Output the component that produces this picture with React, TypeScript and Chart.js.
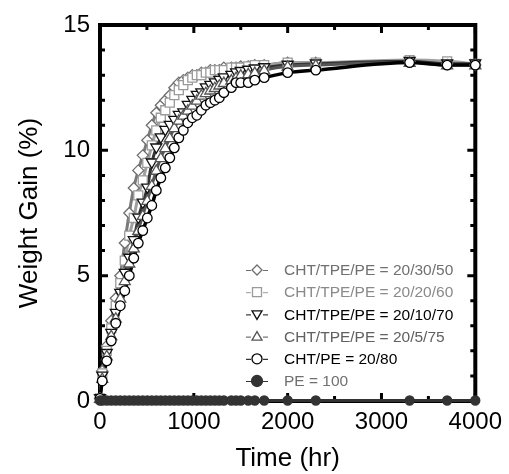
import React, { useEffect, useRef } from "react";
import { Chart, registerables } from "chart.js";

Chart.register(...registerables);

// ---- data ----
const times = [0, 24, 72, 120, 168, 216, 264, 312, 360, 408, 456, 504, 552, 600, 648, 696, 744, 792, 840, 888, 936, 984, 1032, 1080, 1128, 1176, 1224, 1272, 1320, 1400, 1450, 1500, 1580, 1650, 1750, 2000, 2300, 3300, 3700, 4000];

const gain_20_30_50 = [0.1, 1.2, 2.2, 3.2, 4.1, 5.0, 6.3, 7.5, 8.5, 9.2, 9.8, 10.4, 11.0, 11.5, 11.8, 12.0, 12.2, 12.5, 12.7, 12.8, 12.9, 13.0, 13.0, 13.1, 13.1, 13.2, 13.2, 13.2, 13.3, 13.3, 13.3, 13.35, 13.35, 13.4, 13.4, 13.5, 13.5, 13.55, 13.45, 13.4];
const gain_20_20_60 = [0.1, 1.1, 2.0, 2.9, 3.8, 4.7, 5.6, 6.6, 7.3, 8.2, 8.8, 9.5, 10.2, 10.8, 11.3, 11.6, 11.9, 12.2, 12.4, 12.6, 12.8, 12.9, 13.0, 13.0, 13.1, 13.1, 13.2, 13.2, 13.2, 13.3, 13.3, 13.3, 13.35, 13.4, 13.4, 13.5, 13.5, 13.6, 13.55, 13.45];
const gain_20_10_70 = [0.1, 1.0, 1.9, 2.7, 3.5, 4.3, 5.1, 5.7, 6.4, 7.3, 7.9, 8.5, 9.5, 10.1, 10.5, 10.8, 11.0, 11.2, 11.4, 11.5, 11.8, 12.0, 12.2, 12.3, 12.5, 12.6, 12.7, 12.8, 12.9, 13.0, 13.1, 13.15, 13.2, 13.25, 13.3, 13.4, 13.45, 13.55, 13.45, 13.45];
const gain_20_5_75 = [0.1, 0.9, 1.8, 2.6, 3.3, 4.1, 4.8, 5.5, 6.1, 6.8, 7.4, 8.0, 8.6, 9.2, 9.7, 10.1, 10.5, 10.9, 11.2, 11.4, 11.6, 11.8, 12.0, 12.2, 12.3, 12.4, 12.5, 12.6, 12.7, 12.8, 12.9, 13.0, 13.05, 13.1, 13.2, 13.35, 13.4, 13.5, 13.4, 13.4];
const gain_20_80 = [0.1, 0.8, 1.6, 2.4, 3.1, 3.8, 4.4, 5.0, 5.7, 6.3, 6.8, 7.3, 7.8, 8.4, 8.9, 9.3, 9.7, 10.1, 10.5, 10.8, 11.1, 11.3, 11.4, 11.6, 11.8, 11.9, 12.0, 12.1, 12.3, 12.5, 12.7, 12.7, 12.7, 12.8, 12.9, 13.1, 13.2, 13.5, 13.4, 13.4];
const gain_pe100 = [0.02, 0.02, 0.02, 0.02, 0.02, 0.02, 0.02, 0.02, 0.02, 0.02, 0.02, 0.02, 0.02, 0.02, 0.02, 0.02, 0.02, 0.02, 0.02, 0.02, 0.02, 0.02, 0.02, 0.02, 0.02, 0.02, 0.02, 0.02, 0.02, 0.02, 0.02, 0.02, 0.02, 0.02, 0.02, 0.02, 0.02, 0.02, 0.02, 0.02];

const seriesLabels = ["CHT/TPE/PE = 20/30/50", "CHT/TPE/PE = 20/20/60", "CHT/TPE/PE = 20/10/70", "CHT/TPE/PE = 20/5/75", "CHT/PE = 20/80", "PE = 100"];
const seriesValues = [gain_20_30_50, gain_20_20_60, gain_20_10_70, gain_20_5_75, gain_20_80, gain_pe100];

const xTickValues = [0, 1000, 2000, 3000, 4000];
const yTickValues = [0, 5, 10, 15];
const xTitle = "Time (hr)";
const yTitle = "Weight Gain (%)";

// ---- styles ----
const FONT = "'Liberation Sans', Arial, Helvetica, sans-serif";
type Sty = { shape: string; stroke: string; fill: string; line: string; lw: number; r: number; text: string };
const styles: Sty[] = [
  { shape: "diamond", stroke: "#6e6e6e", fill: "#ffffff", line: "#7a7a7a", lw: 3, r: 5.5, text: "#707070" },
  { shape: "square", stroke: "#9a9a9a", fill: "#ffffff", line: "#a0a0a0", lw: 3, r: 4.5, text: "#8a8a8a" },
  { shape: "tridown", stroke: "#111111", fill: "#ffffff", line: "#333333", lw: 3, r: 5.5, text: "#000000" },
  { shape: "triup", stroke: "#555555", fill: "#ffffff", line: "#555555", lw: 3, r: 5.5, text: "#606060" },
  { shape: "circle", stroke: "#000000", fill: "#ffffff", line: "#000000", lw: 3.5, r: 4.8, text: "#000000" },
  { shape: "disc", stroke: "#333333", fill: "#333333", line: "#333333", lw: 3, r: 4.5, text: "#707070" },
];

function drawMarker(ctx: CanvasRenderingContext2D, shape: string, x: number, y: number, r: number, stroke: string, fill: string) {
  ctx.save();
  ctx.beginPath();
  if (shape === "diamond") {
    ctx.moveTo(x, y - r); ctx.lineTo(x + r, y); ctx.lineTo(x, y + r); ctx.lineTo(x - r, y); ctx.closePath();
  } else if (shape === "square") {
    ctx.rect(x - r, y - r, 2 * r, 2 * r);
  } else if (shape === "tridown") {
    ctx.moveTo(x - r, y - r * 0.7); ctx.lineTo(x + r, y - r * 0.7); ctx.lineTo(x, y + r); ctx.closePath();
  } else if (shape === "triup") {
    ctx.moveTo(x - r, y + r * 0.7); ctx.lineTo(x + r, y + r * 0.7); ctx.lineTo(x, y - r); ctx.closePath();
  } else {
    ctx.arc(x, y, r, 0, Math.PI * 2);
  }
  ctx.fillStyle = fill;
  ctx.fill();
  ctx.lineWidth = 1.3;
  ctx.strokeStyle = stroke;
  ctx.stroke();
  ctx.restore();
}

const framePlugin = {
  id: "frame",
  beforeDatasetsDraw(chart: any) {
    const { ctx, chartArea: a, scales } = chart;
    const xs = scales.x, ys = scales.y;
    ctx.save();
    ctx.strokeStyle = "#000";
    ctx.lineWidth = 4;
    ctx.strokeRect(a.left, a.top, a.right - a.left, a.bottom - a.top);
    ctx.lineWidth = 3;
    ctx.beginPath();
    for (let v = 0; v <= 4000; v += 500) {
      const px = xs.getPixelForValue(v);
      const len = v % 1000 === 0 ? 8 : 5;
      ctx.moveTo(px, a.bottom); ctx.lineTo(px, a.bottom - len);
      ctx.moveTo(px, a.top); ctx.lineTo(px, a.top + len);
    }
    for (let v = 0; v <= 15; v += 1) {
      const py = ys.getPixelForValue(v);
      const len = v % 5 === 0 ? 8 : 5;
      ctx.moveTo(a.left, py); ctx.lineTo(a.left + len, py);
      ctx.moveTo(a.right, py); ctx.lineTo(a.right - len, py);
    }
    ctx.stroke();
    ctx.restore();
  },
  afterDatasetsDraw(chart: any) {
    const { ctx, scales } = chart;
    const xs = scales.x, ys = scales.y;
    for (let s = 0; s < seriesValues.length; s++) {
      const st = styles[s];
      const vals = seriesValues[s];
      for (let i = 0; i < times.length; i++) {
        drawMarker(ctx, st.shape, xs.getPixelForValue(times[i]), ys.getPixelForValue(vals[i]), st.r, st.stroke, st.fill);
      }
    }
  },
  afterDraw(chart: any) {
    const { ctx } = chart;
    ctx.save();
    ctx.font = `15.5px ${FONT}`;
    ctx.textBaseline = "middle";
    ctx.textAlign = "left";
    const sx = 257;
    for (let i = 0; i < seriesLabels.length; i++) {
      const st = styles[i];
      const y = 270 + i * 22.2;
      ctx.strokeStyle = st.stroke;
      ctx.lineWidth = 1;
      ctx.beginPath();
      ctx.moveTo(sx - 11, y + 0.5); ctx.lineTo(sx - 6, y + 0.5);
      ctx.moveTo(sx + 6, y + 0.5); ctx.lineTo(sx + 11, y + 0.5);
      ctx.stroke();
      drawMarker(ctx, st.shape, sx, y, st.shape === "square" ? 4.5 : st.shape === "disc" ? 5.5 : 5, st.stroke, st.fill);
      ctx.fillStyle = st.text;
      ctx.fillText(seriesLabels[i], 284, y + 1);
    }
    ctx.restore();
  },
};

export default function App() {
  const ref = useRef<HTMLCanvasElement | null>(null);
  useEffect(() => {
    document.body.style.margin = "0";
    const canvas = ref.current;
    if (!canvas) return;
    const datasets = seriesValues.map((vals, s) => ({
      label: seriesLabels[s],
      data: times.map((t, i) => ({ x: t, y: vals[i] })),
      borderColor: styles[s].line,
      borderWidth: styles[s].lw,
      backgroundColor: styles[s].fill,
      pointRadius: 0,
      pointHoverRadius: 0,
      cubicInterpolationMode: "monotone" as const,
      clip: false as any,
      order: 6 - s,
    }));
    const chart = new Chart(canvas, {
      type: "line",
      data: { datasets },
      options: {
        responsive: false,
        animation: false,
        devicePixelRatio: 1,
        events: [],
        layout: { padding: { top: 25, right: 29, left: 0, bottom: 0 } },
        plugins: { legend: { display: false }, tooltip: { enabled: false } },
        scales: {
          x: {
            type: "linear",
            min: 0,
            max: 4000,
            grid: { display: false, drawTicks: false },
            border: { display: false },
            afterBuildTicks: (s: any) => { s.ticks = xTickValues.map((v) => ({ value: v })); },
            afterFit: (s: any) => { s.height = 73; },
            ticks: { color: "#000", font: { family: FONT, size: 24 }, padding: 7, maxRotation: 0, callback: (v: any) => String(v) },
            title: { display: true, text: xTitle, color: "#000", font: { family: FONT, size: 26 }, padding: { top: 0, bottom: 0 } },
          },
          y: {
            type: "linear",
            min: 0,
            max: 15,
            grid: { display: false, drawTicks: false },
            border: { display: false },
            afterBuildTicks: (s: any) => { s.ticks = yTickValues.map((v) => ({ value: v })); },
            afterFit: (s: any) => { s.width = 100; },
            ticks: { color: "#000", font: { family: FONT, size: 24 }, padding: 10, callback: (v: any) => String(v) },
            title: { display: true, text: yTitle, color: "#000", font: { family: FONT, size: 26 }, padding: { top: 14, bottom: 0 } },
          },
        },
      },
      plugins: [framePlugin],
    });
    return () => chart.destroy();
  }, []);
  return (
    <div style={{ width: 509, height: 474 }}>
      <canvas ref={ref} width={509} height={474} style={{ width: 509, height: 474, display: "block" }} />
    </div>
  );
}
